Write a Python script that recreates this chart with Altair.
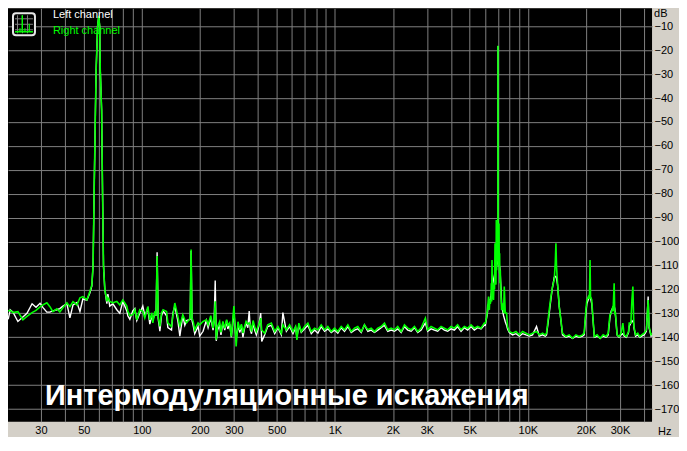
import altair as alt
import pandas as pd

# ---------------- data ----------------
freq_hz = [
    20.3, 20.8, 21.5, 22.8, 24.2, 25.4, 27.0, 28.3, 29.7, 30.7,
    32.2, 33.4, 34.6, 36.3, 37.6, 39.0, 40.9, 42.4, 44.0, 46.1,
    47.8, 49.5, 51.9, 53.8, 55.1, 55.9, 56.6, 57.5, 58.0, 59.0,
    59.8, 60.5, 60.9, 61.9, 62.6, 63.3, 64.3, 65.9, 66.7, 68.2,
    70.8, 74.2, 76.9, 79.7, 83.6, 84.6, 86.7, 89.8, 92.0, 94.2,
    97.6, 101.2, 103.6, 107.4, 110.0, 112.7, 114.0, 116.8, 118.5, 120.0,
    121.5, 124.0, 126.5, 128.9, 134.3, 136.4, 142.5, 144.7, 148.2, 153.6,
    157.4, 163.0, 167.0, 170.4, 178.0, 180.0, 182.0, 184.5, 188.0, 195.6,
    199.5, 207.6, 216.0, 220.5, 227.6, 233.9, 237.0, 240.0, 243.0, 247.0,
    253.0, 257.0, 263.0, 269.0, 275.0, 279.0, 285.0, 291.0, 300.0, 304.0,
    308.0, 315.0, 322.0, 328.0, 334.0, 341.0, 347.0, 354.0, 360.0, 365.0,
    370.0, 377.0, 384.0, 392.0, 403, 413, 418, 433, 449, 469,
    488, 507, 528, 538, 561, 583, 607, 626, 636, 651,
    670, 697, 725, 755, 785, 817, 850, 885, 920, 958,
    996, 1036, 1079, 1122, 1168, 1216, 1265, 1315, 1370, 1424,
    1482, 1543, 1605, 1669, 1738, 1808, 1880, 1958, 2036, 2118,
    2206, 2294, 2386, 2485, 2585, 2688, 2799, 2945, 3027, 3152,
    3280, 3411, 3552, 3694, 3842, 4001, 4161, 4328, 4507, 4688,
    4876, 5077, 5280, 5492, 5719, 5948, 6020, 6080, 6143, 6190,
    6217, 6261, 6290, 6314, 6350, 6390, 6440, 6467, 6495, 6521,
    6560, 6599, 6640, 6678, 6720, 6758, 6785, 6807, 6835, 6863,
    6890, 6921, 6955, 6990, 7000, 7010, 7045, 7087, 7115, 7140,
    7170, 7200, 7230, 7270, 7311, 7399, 7487, 7547, 7638, 7757,
    7852, 8012, 8335, 8678, 9027, 9389, 9777, 10167, 10576, 11090,
    11455, 11917, 12303, 12497, 12904, 13169, 13423, 13698, 13864, 13979,
    14079, 14249, 14537, 14835, 15118, 15740, 16378, 17034, 17740, 18450,
    19187, 19578, 19975, 20216, 20607, 20850, 21000, 21120, 21430, 21770,
    22110, 22860, 23690, 24550, 25440, 26080, 26610, 27030, 27410, 27650,
    28000, 28200, 28440, 29000, 29700, 30420, 31050, 31530, 32400, 33230,
    33510, 34190, 34600, 35000, 35300, 35440, 36160, 37100, 37990, 38910,
    40020, 41130, 42000, 42460, 43490, 44540, 45350, 46000, 46450, 47360,
    47860,
]

right_db = [
    -129.0, -128.8, -129.7, -129.3, -132.7, -131.3, -129.7, -128.8, -127.3, -126.5,
    -125.6, -127.2, -129.3, -128.1, -129.4, -127.7, -125.6, -127.2, -125.1, -126.5,
    -123.5, -123.0, -124.4, -120.9, -118.1, -110.0, -80.0, -45.0, -28.0, -10.0,
    -5.6, -10.0, -28.0, -45.0, -80.0, -110.0, -120.0, -125.0, -123.5, -125.0,
    -125.6, -125.0, -126.5, -124.4, -127.0, -129.0, -131.0, -130.5, -128.5, -132.7,
    -128.5, -129.2, -131.9, -127.2, -132.7, -129.8, -134.0, -129.2, -131.0, -106.0,
    -131.3, -135.5, -129.8, -128.5, -129.2, -134.0, -135.5, -131.3, -125.7, -131.3,
    -135.5, -130.6, -132.7, -134.0, -132.0, -103.3, -132.0, -133.4, -136.9, -134.0,
    -134.8, -133.4, -132.7, -134.8, -131.0, -136.2, -133.0, -125.0, -141.0, -135.5,
    -133.5, -138.0, -133.4, -136.2, -132.7, -135.0, -134.0, -139.7, -127.0, -135.5,
    -143.8, -133.5, -136.9, -134.5, -138.2, -135.5, -133.4, -134.5, -134.0, -135.0,
    -137.6, -133.0, -135.5, -137.6, -134.8, -132.0, -137.0, -138.3, -134.8, -134.1,
    -137.6, -135.5, -138.3, -134.8, -136.9, -134.8, -137.6, -135.5, -141.1, -134.1,
    -137.6, -135.5, -134.1, -137.6, -136.2, -136.9, -134.8, -136.9, -135.5, -137.6,
    -136.2, -137.6, -135.5, -136.9, -134.8, -137.6, -136.2, -135.5, -137.6, -134.8,
    -136.9, -136.2, -137.6, -136.2, -135.5, -134.1, -136.9, -136.2, -136.9, -135.5,
    -137.6, -134.8, -136.2, -136.9, -135.5, -137.6, -136.2, -132.0, -136.9, -135.5,
    -136.2, -136.9, -135.5, -136.2, -136.9, -135.5, -136.2, -134.8, -136.9, -135.5,
    -136.2, -134.8, -136.2, -135.5, -136.2, -134.1, -134.1, -132.5, -129.9, -127.0,
    -125.8, -123.0, -127.5, -128.6, -124.4, -126.0, -124.4, -117.4, -125.0, -107.7,
    -124.0, -121.5, -124.4, -117.4, -120.0, -100.7, -116.0, -110.5, -118.0, -91.0,
    -112.0, -102.1, -108.0, -100.0, -18.1, -100.0, -110.0, -92.4, -113.0, -104.9,
    -117.4, -112.0, -118.8, -124.0, -128.6, -125.8, -129.9, -118.8, -129.9, -129.9,
    -135.5, -137.6, -138.3, -137.6, -139.0, -137.6, -138.3, -139.0, -138.3, -137.6,
    -139.0, -138.3, -139.0, -138.3, -128.6, -123.0, -118.8, -116.0, -109.1, -100.7,
    -110.5, -117.4, -127.2, -132.7, -138.3, -139.7, -139.0, -140.4, -139.0, -139.7,
    -139.0, -138.3, -128.6, -124.4, -123.0, -124.0, -107.7, -123.0, -124.4, -132.7,
    -139.7, -139.0, -140.4, -139.0, -139.7, -138.3, -130.6, -129.9, -128.0, -129.0,
    -117.4, -130.0, -129.9, -139.0, -139.7, -138.3, -134.1, -139.0, -139.7, -137.6,
    -134.1, -134.1, -124.4, -118.8, -131.0, -135.5, -139.0, -138.3, -139.7, -139.0,
    -138.3, -136.9, -124.4, -135.5, -139.0, -138.3, -136.2, -129.2, -136.9, -137.6,
    -137.0,
]

left_db = [
    -132.5, -128.5, -129.5, -133.4, -131.5, -130.0, -126.0, -127.5, -125.8, -127.5,
    -129.5, -129.5, -129.0, -128.5, -128.0, -127.0, -126.0, -131.9, -126.5, -125.5,
    -129.2, -124.0, -124.5, -121.5, -118.5, -110.0, -80.0, -45.0, -28.0, -10.0,
    -6.0, -10.0, -28.0, -45.0, -80.0, -110.0, -120.0, -126.0, -122.0, -127.0,
    -126.0, -128.5, -130.0, -125.0, -129.0, -131.0, -132.5, -129.0, -128.0, -133.0,
    -130.0, -127.0, -131.0, -128.0, -134.5, -131.0, -133.0, -130.0, -131.0, -104.5,
    -132.0, -137.5, -131.0, -129.0, -131.0, -136.0, -137.0, -130.0, -127.0, -133.0,
    -139.5, -131.0, -135.0, -133.0, -132.5, -104.0, -133.0, -135.0, -138.5, -135.5,
    -139.5, -137.5, -133.0, -136.0, -132.0, -137.0, -133.0, -116.3, -141.5, -137.0,
    -135.0, -139.0, -134.0, -137.0, -133.0, -136.5, -134.5, -140.0, -129.0, -136.0,
    -141.0, -135.0, -138.0, -135.0, -140.0, -136.0, -134.0, -136.0, -129.0, -137.0,
    -138.5, -134.0, -137.0, -139.0, -135.5, -129.9, -141.8, -139.0, -135.5, -135.0,
    -138.5, -136.0, -139.0, -129.7, -137.5, -135.5, -138.5, -136.0, -140.0, -135.0,
    -138.0, -136.5, -135.0, -138.5, -137.0, -138.3, -135.5, -137.5, -136.5, -138.0,
    -137.0, -138.3, -136.0, -137.5, -135.5, -138.0, -137.0, -136.5, -138.0, -134.8,
    -137.5, -137.0, -138.0, -137.0, -136.0, -135.0, -137.5, -137.0, -137.5, -136.5,
    -138.0, -135.5, -137.0, -137.5, -136.0, -138.0, -137.0, -134.0, -137.5, -136.5,
    -137.0, -137.5, -136.0, -137.0, -137.5, -136.5, -137.0, -135.5, -137.5, -136.0,
    -137.0, -135.5, -137.0, -136.0, -136.5, -135.0, -135.0, -133.0, -131.0, -129.0,
    -127.5, -126.5, -126.0, -125.5, -125.0, -124.0, -122.5, -121.5, -120.5, -119.5,
    -118.0, -117.0, -116.0, -115.0, -114.0, -112.5, -112.0, -111.5, -111.0, -110.5,
    -110.0, -109.5, -109.0, -100.0, -18.3, -100.0, -109.0, -109.5, -110.0, -110.5,
    -112.0, -114.0, -117.0, -121.0, -126.0, -129.0, -131.0, -132.0, -133.5, -135.0,
    -136.5, -138.0, -139.0, -138.5, -139.5, -138.5, -139.0, -139.5, -139.0, -135.5,
    -139.5, -139.0, -139.5, -139.0, -130.0, -124.0, -119.0, -115.0, -114.6, -114.6,
    -115.5, -118.0, -127.0, -133.0, -139.0, -140.0, -139.5, -140.5, -139.5, -140.0,
    -139.5, -139.0, -130.0, -126.0, -124.0, -123.5, -123.0, -123.5, -126.0, -133.0,
    -140.0, -139.5, -140.5, -139.5, -140.0, -139.0, -132.0, -129.0, -128.0, -127.5,
    -127.0, -128.0, -131.0, -139.0, -140.0, -139.0, -138.5, -139.5, -140.0, -138.0,
    -135.5, -134.0, -133.0, -133.5, -134.0, -136.0, -139.5, -139.0, -140.0, -139.5,
    -139.0, -137.5, -123.0, -136.0, -139.5, -139.0, -137.0, -136.0, -137.5, -138.0,
    -137.5,
]

series_names = ["Left channel", "Right channel"]
series_colors = ["#ffffff", "#00ff00"]

grid_freqs = [30, 40, 50, 60, 70, 80, 90,
              100, 200, 300, 400, 500, 600, 700, 800, 900,
              1000, 2000, 3000, 4000, 5000, 6000, 7000, 8000, 9000,
              10000, 20000, 30000, 40000]
label_freqs = [30, 50, 100, 200, 300, 500, 1000, 2000, 3000, 5000, 10000, 20000, 30000]
db_ticks = [-170, -160, -150, -140, -130, -120, -110, -100, -90, -80,
            -70, -60, -50, -40, -30, -20, -10]

title_text = "Интермодуляционные искажения"
x_unit = "Hz"
y_unit = "dB"

# ---------------- chart ----------------
df = pd.DataFrame({"freq": freq_hz, "left": left_db, "right": right_db})
one = pd.DataFrame({"k": [0]})

W, H = 645, 414
FONT = "Liberation Sans"

xscale = alt.Scale(type="log", domain=[20.26, 43996], nice=False)
yscale = alt.Scale(domain=[-175.3, -2.5], nice=False, zero=False)

label_js = "[" + ",".join(str(v) for v in label_freqs) + "]"
xaxis = alt.Axis(
    values=grid_freqs,
    labelExpr=("indexof(" + label_js + ", datum.value) >= 0 ? "
               "(datum.value >= 1000 ? (datum.value / 1000) + 'K' : '' + datum.value) : ''"),
    grid=True, ticks=False, domain=False, title=None,
    labelPadding=3, labelOverlap=False, labelFlush=False, labelAngle=0,
)
yaxis = alt.Axis(
    orient="right", values=db_ticks, grid=True, ticks=False, domain=False,
    title=None, labelAlign="left", labelBaseline="middle", labelPadding=2,
)

base = alt.Chart(df)
left_line = base.mark_line(color=series_colors[0], strokeWidth=1.4, clip=True).encode(
    x=alt.X("freq:Q", scale=xscale, axis=xaxis),
    y=alt.Y("left:Q", scale=yscale, axis=yaxis),
)
right_line = base.mark_line(color=series_colors[1], strokeWidth=1.6, clip=True).encode(
    x=alt.X("freq:Q", scale=xscale, axis=xaxis),
    y=alt.Y("right:Q", scale=yscale, axis=yaxis),
)


def seg(x1, y1, x2, y2, color, w=1):
    return alt.Chart(one).mark_rule(color=color, strokeWidth=w).encode(
        x=alt.value(x1), y=alt.value(y1), x2=alt.value(x2), y2=alt.value(y2)
    )


def label(text, x, y, color, size=11, weight="normal", baseline="alphabetic"):
    return alt.Chart(pd.DataFrame({"t": [text]})).mark_text(
        align="left", baseline=baseline, font=FONT, fontSize=size,
        fontWeight=weight, color=color,
    ).encode(text="t:N", x=alt.value(x), y=alt.value(y))


# legend icon
icon_box = alt.Chart(one).mark_rect(
    fill="#000000", stroke="#e6e6e6", strokeWidth=2, cornerRadius=3
).encode(x=alt.value(5), x2=alt.value(27), y=alt.value(5), y2=alt.value(27))
icon_parts = [
    seg(9.5, 7, 9.5, 25, "#808080"),
    seg(14.5, 7, 14.5, 25, "#808080"),
    seg(19.5, 7, 19.5, 25, "#808080"),
    seg(7, 10.5, 25, 10.5, "#808080"),
    seg(7, 16, 25, 16, "#808080"),
    seg(7, 21.5, 25, 21.5, "#808080"),
    seg(7, 23.5, 25, 23.5, "#00ff00", 1.5),
    seg(14.3, 23.5, 14.3, 7, "#00ff00", 1.5),
    seg(12, 23.5, 12, 20, "#00ff00", 1.2),
    seg(17, 23.5, 17, 20, "#00ff00", 1.2),
    seg(21.3, 23.5, 21.3, 15.5, "#00ff00", 1.2),
]

texts = [
    label(series_names[0], 45, 10, series_colors[0]),
    label(series_names[1], 45, 25.5, series_colors[1]),
    label(title_text, 37, 397, "#ffffff", size=29, weight="bold"),
    label(y_unit, W + 2, 0, "#000000", baseline="top"),
    label(x_unit, W + 6, H + 4, "#000000", baseline="top"),
]

chart = alt.layer(left_line, right_line, icon_box, *icon_parts, *texts).properties(
    width=W, height=H,
    padding={"left": 0, "top": 0, "right": 0, "bottom": 0},
    background="#d4d0c8",
).configure_view(
    fill="#000000", stroke=None
).configure_axis(
    gridColor="#808080", gridWidth=1, gridOpacity=1,
    labelFont=FONT, labelFontSize=11, labelColor="#000000",
)

chart.save("out.html", embed_options={"renderer": "svg", "actions": False})
